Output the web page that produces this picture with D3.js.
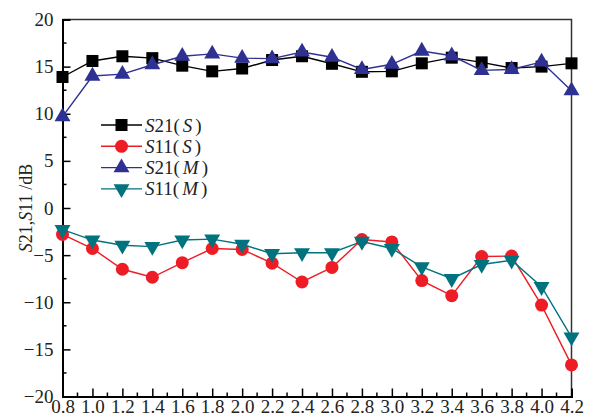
<!DOCTYPE html>
<html>
<head>
<meta charset="utf-8">
<script src="https://cdn.jsdelivr.net/npm/d3@7"></script>
<style>
  html, body { margin: 0; padding: 0; background: #fff; }
  svg { display: block; }
  text { font-family: "Times New Roman", "Liberation Serif", Times, serif; }
</style>
</head>
<body>
<svg id="chart" width="591" height="420"></svg>
<script>
// Frequency points (GHz)
const freq = [0.8, 1.0, 1.2, 1.4, 1.6, 1.8, 2.0, 2.2, 2.4, 2.6, 2.8, 3.0, 3.2, 3.4, 3.6, 3.8, 4.0, 4.2];

// Measured responses (dB)
const s21S = [13.9, 15.6, 16.1, 15.9, 15.1, 14.5, 14.8, 15.7, 16.1, 15.3, 14.45, 14.5, 15.35, 15.95, 15.45, 14.85, 15.0, 15.35];
const s11S = [-2.8, -4.3, -6.5, -7.35, -5.8, -4.3, -4.4, -5.85, -7.85, -6.3, -3.35, -3.6, -7.7, -9.3, -5.15, -5.1, -10.3, -16.65];
const s21M = [9.7, 14.0, 14.2, 15.2, 16.1, 16.35, 15.9, 15.85, 16.55, 16.0, 14.7, 15.25, 16.65, 16.15, 14.6, 14.7, 15.5, 12.45];
const s11M = [-2.3, -3.4, -3.95, -4.1, -3.4, -3.3, -3.85, -4.85, -4.75, -4.75, -3.55, -4.3, -6.25, -7.5, -6.0, -5.55, -8.35, -13.7];

// Tick labels
const xTicks = [0.8, 1.0, 1.2, 1.4, 1.6, 1.8, 2.0, 2.2, 2.4, 2.6, 2.8, 3.0, 3.2, 3.4, 3.6, 3.8, 4.0, 4.2];
const yTicks = [-20, -15, -10, -5, 0, 5, 10, 15, 20];

const seriesNames = [["S", "21(", "S", ")"], ["S", "11(", "S", ")"], ["S", "21(", "M", ")"], ["S", "11(", "M", ")"]];

const series = [
  { values: s21S, color: "#000000", marker: "square" },
  { values: s11S, color: "#ee1c25", marker: "circle" },
  { values: s21M, color: "#2e3192", marker: "up" },
  { values: s11M, color: "#00737f", marker: "down" }
];

const FONT = "'Times New Roman', 'Liberation Serif', Times, serif";

const svg = d3.select("#chart");
const margin = { left: 62.5, right: 19.5, top: 19.5, bottom: 23.5 };
const W = 591, H = 420;

const x = d3.scaleLinear().domain([0.8, 4.2]).range([margin.left, W - margin.right]);
const y = d3.scaleLinear().domain([-20, 20]).range([H - margin.bottom, margin.top]);

// Frame: top and right edges
svg.append("path")
  .attr("d", `M${x(0.8)},${y(20)}H${x(4.2)}V${y(-20)}`)
  .attr("fill", "none").attr("stroke", "#333").attr("stroke-width", 1.5);

// Minor ticks
const xMinor = d3.range(0.9, 4.2, 0.2);
const yMinor = d3.range(-17.5, 20, 5);

const gx = svg.append("g").attr("transform", `translate(0,${y(-20)})`);
gx.call(d3.axisBottom(x).tickValues(xTicks).tickFormat(d3.format(".1f")).tickSize(-8).tickPadding(3));
gx.selectAll(".tick").filter(d => d === 0.8 || d === 4.2).select("line").remove();
gx.selectAll("line.minor").data(xMinor).enter().append("line")
  .attr("class", "minor")
  .attr("x1", d => x(d)).attr("x2", d => x(d))
  .attr("y1", 0).attr("y2", -4)
  .attr("stroke", "#000").attr("stroke-width", 1.5);

const gy = svg.append("g").attr("transform", `translate(${x(0.8)},0)`);
gy.call(d3.axisLeft(y).tickValues(yTicks).tickSize(-8).tickPadding(9));
gy.selectAll(".tick").filter(d => d === 20 || d === -20).select("line").remove();
gy.selectAll("line.minor").data(yMinor).enter().append("line")
  .attr("class", "minor")
  .attr("y1", d => y(d)).attr("y2", d => y(d))
  .attr("x1", 0).attr("x2", 4)
  .attr("stroke", "#000").attr("stroke-width", 1.5);

[gx, gy].forEach(g => {
  g.attr("font-family", FONT).attr("font-size", 19);
  g.select(".domain").attr("stroke", "#000").attr("stroke-width", 2);
  g.selectAll(".tick line").attr("stroke", "#000").attr("stroke-width", 1.5);
  g.selectAll(".tick text").attr("fill", "#222");
});

// Y axis title
const yTitle = svg.append("text")
  .attr("transform", `translate(32,${(y(20) + y(-20)) / 2}) rotate(-90)`)
  .attr("text-anchor", "middle")
  .attr("fill", "#222")
  .attr("font-family", FONT)
  .attr("font-size", 18);
yTitle.append("tspan").attr("font-style", "italic").text("S");
yTitle.append("tspan").text("21,");
yTitle.append("tspan").attr("font-style", "italic").text("S");
yTitle.append("tspan").text("11 /dB");

// Marker shapes
function drawMarker(g, type, color, cx, cy) {
  if (type === "square") {
    g.append("rect").attr("x", cx - 6).attr("y", cy - 6).attr("width", 12).attr("height", 12).attr("fill", color);
  } else if (type === "circle") {
    g.append("circle").attr("cx", cx).attr("cy", cy).attr("r", 6.5).attr("fill", color);
  } else {
    const sym = d3.symbol().type(d3.symbolTriangle).size(110);
    g.append("path").attr("d", sym())
      .attr("transform", `translate(${cx},${cy})${type === "down" ? " rotate(180)" : ""}`)
      .attr("fill", color);
  }
}

const line = d3.line().x((d, i) => x(freq[i])).y(d => y(d));

series.forEach(s => {
  const g = svg.append("g");
  g.append("path").datum(s.values)
    .attr("d", line)
    .attr("fill", "none").attr("stroke", s.color).attr("stroke-width", 1.4);
  s.values.forEach((v, i) => drawMarker(g, s.marker, s.color, x(freq[i]), y(v)));
});

// Legend
const legend = svg.append("g");
series.forEach((s, i) => {
  const ly = 125 + i * 21.3;
  legend.append("line")
    .attr("x1", 101).attr("x2", 142).attr("y1", ly).attr("y2", ly)
    .attr("stroke", s.color).attr("stroke-width", 1.4);
  drawMarker(legend, s.marker, s.color, 121.5, ly);
  const t = legend.append("text")
    .attr("x", 145).attr("y", ly + 6.5)
    .attr("fill", "#222")
    .attr("font-family", FONT)
    .attr("font-size", 19);
  const parts = seriesNames[i];
  t.append("tspan").attr("font-style", "italic").text(parts[0]);
  t.append("tspan").text(parts[1]);
  t.append("tspan").attr("font-style", "italic").attr("dx", 3).text(parts[2]);
  t.append("tspan").attr("dx", 3).text(parts[3]);
});
</script>
</body>
</html>
